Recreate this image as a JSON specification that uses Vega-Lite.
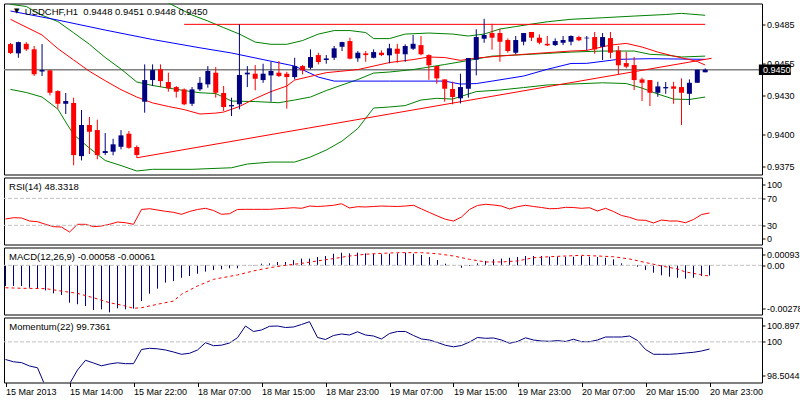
{
"$schema":"https://vega.github.io/schema/vega-lite/v6.json",
"background":"#ffffff",
"padding":{"left":2,"top":2.5,"right":0,"bottom":0},
"config":{"view":{"stroke":"#000000","strokeWidth":1},"axis":{"labelFont":"Liberation Sans","labelFontSize":9,"labelColor":"#000000","tickColor":"#000000","domain":false,"grid":false,"labelOverlap":false,"labelFlush":false,"tickSize":3,"labelPadding":1.5},"text":{"font":"Liberation Sans","fontSize":9.5,"color":"#000000"},"concat":{"spacing":3}},
"datasets":{
"candles":[
{"i":0,"o":0.94698,"h":0.94706,"l":0.94621,"c":0.94629},
{"i":1,"o":0.94626,"h":0.94716,"l":0.94592,"c":0.94713},
{"i":2,"o":0.947,"h":0.94713,"l":0.94644,"c":0.94657},
{"i":3,"o":0.94657,"h":0.94683,"l":0.94451,"c":0.94464},
{"i":4,"o":0.94486,"h":0.94698,"l":0.94451,"c":0.94497},
{"i":5,"o":0.94495,"h":0.94497,"l":0.94302,"c":0.94322},
{"i":6,"o":0.94335,"h":0.94341,"l":0.94199,"c":0.94237},
{"i":7,"o":0.94237,"h":0.9432,"l":0.94158,"c":0.94258},
{"i":8,"o":0.94243,"h":0.94284,"l":0.93762,"c":0.93841},
{"i":9,"o":0.93833,"h":0.94189,"l":0.938,"c":0.94073},
{"i":10,"o":0.94073,"h":0.94135,"l":0.93849,"c":0.94021},
{"i":11,"o":0.94034,"h":0.94114,"l":0.93808,"c":0.93841},
{"i":12,"o":0.93857,"h":0.94011,"l":0.93841,"c":0.93872},
{"i":13,"o":0.93867,"h":0.93967,"l":0.93839,"c":0.93924},
{"i":14,"o":0.93905,"h":0.94034,"l":0.93885,"c":0.93993},
{"i":15,"o":0.94006,"h":0.94027,"l":0.9389,"c":0.93897},
{"i":16,"o":0.93903,"h":0.93916,"l":0.9382,"c":0.93841},
{"i":17,"o":0.94253,"h":0.94541,"l":0.94168,"c":0.9442},
{"i":18,"o":0.9442,"h":0.94541,"l":0.94374,"c":0.94497},
{"i":19,"o":0.94503,"h":0.94541,"l":0.94366,"c":0.94412},
{"i":20,"o":0.94405,"h":0.94477,"l":0.9433,"c":0.94356},
{"i":21,"o":0.94366,"h":0.94374,"l":0.94284,"c":0.9433},
{"i":22,"o":0.94348,"h":0.94356,"l":0.94225,"c":0.94233},
{"i":23,"o":0.94237,"h":0.94366,"l":0.94219,"c":0.94348},
{"i":24,"o":0.94348,"h":0.94443,"l":0.94335,"c":0.94399},
{"i":25,"o":0.94387,"h":0.94528,"l":0.94361,"c":0.9449},
{"i":26,"o":0.94477,"h":0.9452,"l":0.94284,"c":0.94322},
{"i":27,"o":0.9432,"h":0.94374,"l":0.94181,"c":0.94212},
{"i":28,"o":0.94217,"h":0.94284,"l":0.94142,"c":0.94227},
{"i":29,"o":0.94233,"h":0.9485,"l":0.94194,"c":0.94459},
{"i":30,"o":0.94464,"h":0.94528,"l":0.94366,"c":0.94477},
{"i":31,"o":0.94469,"h":0.94536,"l":0.94341,"c":0.9443},
{"i":32,"o":0.9442,"h":0.94546,"l":0.94399,"c":0.94469},
{"i":33,"o":0.94456,"h":0.94561,"l":0.94253,"c":0.9449},
{"i":34,"o":0.94477,"h":0.94567,"l":0.94443,"c":0.94451},
{"i":35,"o":0.94469,"h":0.94484,"l":0.94199,"c":0.94443},
{"i":36,"o":0.94443,"h":0.94592,"l":0.94425,"c":0.94528},
{"i":37,"o":0.94528,"h":0.94536,"l":0.94464,"c":0.94495},
{"i":38,"o":0.94515,"h":0.94657,"l":0.94503,"c":0.94598},
{"i":39,"o":0.94613,"h":0.94631,"l":0.94541,"c":0.94559},
{"i":40,"o":0.94575,"h":0.94613,"l":0.94546,"c":0.94587},
{"i":41,"o":0.94592,"h":0.94683,"l":0.94575,"c":0.94665},
{"i":42,"o":0.94677,"h":0.94716,"l":0.94644,"c":0.94713},
{"i":43,"o":0.94721,"h":0.94747,"l":0.9458,"c":0.94585},
{"i":44,"o":0.94588,"h":0.94644,"l":0.94561,"c":0.94631},
{"i":45,"o":0.94626,"h":0.94644,"l":0.94561,"c":0.94613},
{"i":46,"o":0.94592,"h":0.94657,"l":0.94588,"c":0.94636},
{"i":47,"o":0.94631,"h":0.94649,"l":0.94605,"c":0.94613},
{"i":48,"o":0.94611,"h":0.947,"l":0.94549,"c":0.94665},
{"i":49,"o":0.94662,"h":0.947,"l":0.94554,"c":0.94623},
{"i":50,"o":0.94619,"h":0.94696,"l":0.94561,"c":0.94683},
{"i":51,"o":0.94662,"h":0.94768,"l":0.94652,"c":0.947},
{"i":52,"o":0.9469,"h":0.9476,"l":0.94611,"c":0.94619},
{"i":53,"o":0.94613,"h":0.94619,"l":0.94422,"c":0.94534},
{"i":54,"o":0.94528,"h":0.94528,"l":0.94392,"c":0.94433},
{"i":55,"o":0.94425,"h":0.94425,"l":0.94253,"c":0.94353},
{"i":56,"o":0.94351,"h":0.94407,"l":0.94233,"c":0.94289},
{"i":57,"o":0.94279,"h":0.94469,"l":0.9424,"c":0.94366},
{"i":58,"o":0.94353,"h":0.9459,"l":0.94284,"c":0.9459},
{"i":59,"o":0.94577,"h":0.94812,"l":0.94456,"c":0.94752},
{"i":60,"o":0.94739,"h":0.94893,"l":0.94708,"c":0.94768},
{"i":61,"o":0.94783,"h":0.94855,"l":0.94654,"c":0.94747},
{"i":62,"o":0.94783,"h":0.94816,"l":0.94561,"c":0.94716},
{"i":63,"o":0.94729,"h":0.94742,"l":0.94631,"c":0.94644},
{"i":64,"o":0.94631,"h":0.9476,"l":0.94619,"c":0.94729},
{"i":65,"o":0.94716,"h":0.94783,"l":0.94688,"c":0.94783},
{"i":66,"o":0.94791,"h":0.94791,"l":0.94721,"c":0.94747},
{"i":67,"o":0.94747,"h":0.94773,"l":0.94696,"c":0.94708},
{"i":68,"o":0.947,"h":0.9476,"l":0.94683,"c":0.94688},
{"i":69,"o":0.9469,"h":0.94742,"l":0.94683,"c":0.94721},
{"i":70,"o":0.94708,"h":0.9476,"l":0.9469,"c":0.94729},
{"i":71,"o":0.94716,"h":0.94765,"l":0.94688,"c":0.9476},
{"i":72,"o":0.94752,"h":0.94762,"l":0.94721,"c":0.94727},
{"i":73,"o":0.94742,"h":0.9476,"l":0.94649,"c":0.94747},
{"i":74,"o":0.94752,"h":0.94791,"l":0.94623,"c":0.94657},
{"i":75,"o":0.94677,"h":0.94783,"l":0.94575,"c":0.94752},
{"i":76,"o":0.94744,"h":0.94791,"l":0.94588,"c":0.94631},
{"i":77,"o":0.94649,"h":0.94683,"l":0.94464,"c":0.94534},
{"i":78,"o":0.94551,"h":0.94639,"l":0.9451,"c":0.94523},
{"i":79,"o":0.94536,"h":0.94598,"l":0.94343,"c":0.9442},
{"i":80,"o":0.94425,"h":0.94438,"l":0.94258,"c":0.94399},
{"i":81,"o":0.9442,"h":0.9442,"l":0.94219,"c":0.94322},
{"i":82,"o":0.94322,"h":0.94407,"l":0.94291,"c":0.94371},
{"i":83,"o":0.94356,"h":0.94405,"l":0.94314,"c":0.94366},
{"i":84,"o":0.94371,"h":0.94407,"l":0.94237,"c":0.94353},
{"i":85,"o":0.94366,"h":0.94433,"l":0.94073,"c":0.94322},
{"i":86,"o":0.94314,"h":0.94425,"l":0.94227,"c":0.94399},
{"i":87,"o":0.94399,"h":0.945,"l":0.94399,"c":0.945},
{"i":88,"o":0.9448,"h":0.9451,"l":0.9448,"c":0.945}
],
"ma":[{"i":0,"v":0.94953},{"i":6,"v":0.94883},{"i":12,"v":0.94806},{"i":18,"v":0.94733},{"i":24,"v":0.94669},{"i":28,"v":0.94629},{"i":32,"v":0.94578},{"i":36,"v":0.94528},{"i":39,"v":0.94443},{"i":41,"v":0.94412},{"i":48,"v":0.94412},{"i":55,"v":0.94412},{"i":57,"v":0.94389},{"i":59,"v":0.94393},{"i":61,"v":0.94412},{"i":65,"v":0.94451},{"i":68,"v":0.94503},{"i":71,"v":0.94548},{"i":73,"v":0.94549},{"i":77,"v":0.9458},{"i":81,"v":0.94585},{"i":88,"v":0.9458}],
"fast":[{"i":0,"v":0.94889},{"i":4,"v":0.94768},{"i":6,"v":0.94663},{"i":8,"v":0.94575},{"i":10,"v":0.94488},{"i":12,"v":0.94415},{"i":14,"v":0.94346},{"i":16,"v":0.94289},{"i":18,"v":0.94244},{"i":20,"v":0.94216},{"i":22,"v":0.94192},{"i":24,"v":0.94158},{"i":26,"v":0.94165},{"i":27,"v":0.94173},{"i":29,"v":0.94216},{"i":31,"v":0.94277},{"i":33,"v":0.94331},{"i":35,"v":0.94374},{"i":36,"v":0.9442},{"i":40,"v":0.94477},{"i":44,"v":0.94501},{"i":48,"v":0.94555},{"i":51,"v":0.94578},{"i":53,"v":0.94598},{"i":55,"v":0.94594},{"i":57,"v":0.94572},{"i":59,"v":0.9459},{"i":62,"v":0.94605},{"i":66,"v":0.94623},{"i":71,"v":0.94644},{"i":73,"v":0.94649},{"i":76,"v":0.9469},{"i":78,"v":0.94703},{"i":80,"v":0.94675},{"i":82,"v":0.94636},{"i":84,"v":0.94605},{"i":86,"v":0.94578},{"i":87,"v":0.94563},{"i":88,"v":0.94536}],
"bbm":[{"i":0,"v":0.95005},{"i":2,"v":0.94988},{"i":4,"v":0.9492},{"i":6,"v":0.94872},{"i":8,"v":0.94785},{"i":10,"v":0.94696},{"i":12,"v":0.94594},{"i":14,"v":0.94505},{"i":16,"v":0.94405},{"i":18,"v":0.94378},{"i":20,"v":0.94358},{"i":22,"v":0.94339},{"i":24,"v":0.94322},{"i":26,"v":0.94316},{"i":28,"v":0.94258},{"i":31,"v":0.94254},{"i":34,"v":0.94245},{"i":36,"v":0.94266},{"i":38,"v":0.94289},{"i":40,"v":0.94339},{"i":42,"v":0.94382},{"i":44,"v":0.94424},{"i":46,"v":0.94474},{"i":48,"v":0.94482},{"i":51,"v":0.94501},{"i":55,"v":0.9454},{"i":58,"v":0.94571},{"i":61,"v":0.94605},{"i":64,"v":0.94613},{"i":68,"v":0.94626},{"i":71,"v":0.94636},{"i":75,"v":0.94644},{"i":79,"v":0.94644},{"i":81,"v":0.94619},{"i":83,"v":0.94613},{"i":85,"v":0.94598},{"i":88,"v":0.94605}],
"bbl":[{"i":0,"v":0.94348},{"i":2,"v":0.94324},{"i":4,"v":0.94289},{"i":6,"v":0.94196},{"i":7,"v":0.94096},{"i":8,"v":0.93999},{"i":10,"v":0.93895},{"i":12,"v":0.93799},{"i":14,"v":0.9376},{"i":16,"v":0.93718},{"i":18,"v":0.93731},{"i":23,"v":0.93731},{"i":28,"v":0.93743},{"i":30,"v":0.93772},{"i":33,"v":0.93787},{"i":36,"v":0.93787},{"i":38,"v":0.93826},{"i":40,"v":0.9388},{"i":42,"v":0.93949},{"i":44,"v":0.94046},{"i":46,"v":0.94204},{"i":48,"v":0.94212},{"i":50,"v":0.94223},{"i":52,"v":0.94266},{"i":54,"v":0.94279},{"i":56,"v":0.94273},{"i":58,"v":0.94312},{"i":59,"v":0.94331},{"i":62,"v":0.94343},{"i":65,"v":0.94362},{"i":68,"v":0.94382},{"i":71,"v":0.94389},{"i":75,"v":0.94399},{"i":78,"v":0.94393},{"i":80,"v":0.94358},{"i":82,"v":0.94312},{"i":84,"v":0.94273},{"i":86,"v":0.9427},{"i":88,"v":0.94289}],
"bbu":[{"i":0,"v":0.9566},{"i":4,"v":0.9555},{"i":8,"v":0.9557},{"i":12,"v":0.9539},{"i":16,"v":0.9512},{"i":18,"v":0.9506},{"i":20,"v":0.95015},{"i":21,"v":0.94984},{"i":22,"v":0.94953},{"i":23,"v":0.94922},{"i":25,"v":0.94876},{"i":27,"v":0.94825},{"i":29,"v":0.94775},{"i":31,"v":0.94713},{"i":33,"v":0.94696},{"i":35,"v":0.94696},{"i":37,"v":0.94725},{"i":39,"v":0.94775},{"i":41,"v":0.94802},{"i":43,"v":0.94802},{"i":45,"v":0.94787},{"i":46,"v":0.9474},{"i":48,"v":0.9474},{"i":50,"v":0.94775},{"i":53,"v":0.94783},{"i":56,"v":0.94775},{"i":58,"v":0.9476},{"i":60,"v":0.94775},{"i":62,"v":0.94814},{"i":64,"v":0.94833},{"i":66,"v":0.94852},{"i":68,"v":0.9487},{"i":71,"v":0.94889},{"i":75,"v":0.94901},{"i":79,"v":0.94914},{"i":83,"v":0.94926},{"i":85,"v":0.94935},{"i":86,"v":0.9493},{"i":88,"v":0.9492}],
"hline":[{"i":22,"v":0.9485},{"i":88,"v":0.9485}],
"trend":[{"i":16,"v":0.9382},{"i":88.8,"v":0.94588}],
"rsi":[{"i":0,"v":39.4},{"i":1,"v":41.3},{"i":2,"v":40.9},{"i":3,"v":36.4},{"i":4,"v":35.4},{"i":5,"v":31.5},{"i":6,"v":28.0},{"i":7,"v":27.5},{"i":8,"v":20.1},{"i":9,"v":31.5},{"i":10,"v":31.5},{"i":11,"v":28.0},{"i":12,"v":29.0},{"i":13,"v":31.5},{"i":14,"v":34.9},{"i":15,"v":33.9},{"i":16,"v":31.5},{"i":17,"v":53.5},{"i":18,"v":54.6},{"i":19,"v":52.7},{"i":20,"v":50.8},{"i":21,"v":49.3},{"i":22,"v":46.3},{"i":23,"v":50.5},{"i":24,"v":53.5},{"i":25,"v":55.2},{"i":26,"v":52.0},{"i":27,"v":46.3},{"i":28,"v":47.2},{"i":29,"v":53.5},{"i":30,"v":53.7},{"i":31,"v":53.7},{"i":32,"v":53.7},{"i":33,"v":53.7},{"i":34,"v":54.5},{"i":35,"v":55.2},{"i":36,"v":56.1},{"i":37,"v":55.2},{"i":38,"v":58.6},{"i":39,"v":57.9},{"i":40,"v":58.6},{"i":41,"v":59.7},{"i":42,"v":62.0},{"i":43,"v":55.7},{"i":44,"v":57.6},{"i":45,"v":57.2},{"i":46,"v":57.9},{"i":47,"v":58.6},{"i":48,"v":58.2},{"i":49,"v":57.9},{"i":50,"v":58.6},{"i":51,"v":59.7},{"i":52,"v":54.2},{"i":53,"v":49.0},{"i":54,"v":43.8},{"i":55,"v":38.9},{"i":56,"v":36.4},{"i":57,"v":42.3},{"i":58,"v":53.5},{"i":59,"v":59.4},{"i":60,"v":61.2},{"i":61,"v":60.1},{"i":62,"v":58.6},{"i":63,"v":54.2},{"i":64,"v":57.6},{"i":65,"v":59.7},{"i":66,"v":57.9},{"i":67,"v":56.4},{"i":68,"v":54.6},{"i":69,"v":54.9},{"i":70,"v":56.7},{"i":71,"v":56.4},{"i":72,"v":55.2},{"i":73,"v":56.1},{"i":74,"v":51.2},{"i":75,"v":55.2},{"i":76,"v":50.5},{"i":77,"v":44.6},{"i":78,"v":41.9},{"i":79,"v":37.9},{"i":80,"v":37.4},{"i":81,"v":33.5},{"i":82,"v":37.9},{"i":83,"v":36.4},{"i":84,"v":36.4},{"i":85,"v":33.9},{"i":86,"v":38.6},{"i":87,"v":46.0},{"i":88,"v":48.3}],
"macd":[{"i":0,"v":-0.00118},{"i":1,"v":-0.00118},{"i":2,"v":-0.00118},{"i":3,"v":-0.00128},{"i":4,"v":-0.00133},{"i":5,"v":-0.00143},{"i":6,"v":-0.0016},{"i":7,"v":-0.00169},{"i":8,"v":-0.00213},{"i":9,"v":-0.00222},{"i":10,"v":-0.00232},{"i":11,"v":-0.00255},{"i":12,"v":-0.00251},{"i":13,"v":-0.00268},{"i":14,"v":-0.00245},{"i":15,"v":-0.00251},{"i":16,"v":-0.00247},{"i":17,"v":-0.00204},{"i":18,"v":-0.00162},{"i":19,"v":-0.00133},{"i":20,"v":-0.00099},{"i":21,"v":-0.0009},{"i":22,"v":-0.00071},{"i":23,"v":-0.00061},{"i":24,"v":-0.00048},{"i":25,"v":-0.00036},{"i":26,"v":-0.00027},{"i":27,"v":-0.00023},{"i":28,"v":-0.00017},{"i":29,"v":-0.00017},{"i":30,"v":-0.00004},{"i":31,"v":-0.00002},{"i":32,"v":0.00009},{"i":33,"v":0.00011},{"i":34,"v":0.00019},{"i":35,"v":0.00019},{"i":36,"v":0.00029},{"i":37,"v":0.00038},{"i":38,"v":0.00038},{"i":39,"v":0.00047},{"i":40,"v":0.00053},{"i":41,"v":0.00066},{"i":42,"v":0.00072},{"i":43,"v":0.00068},{"i":44,"v":0.00072},{"i":45,"v":0.00068},{"i":46,"v":0.00066},{"i":47,"v":0.00063},{"i":48,"v":0.00066},{"i":49,"v":0.00068},{"i":50,"v":0.00072},{"i":51,"v":0.00066},{"i":52,"v":0.00059},{"i":53,"v":0.00047},{"i":54,"v":0.0003},{"i":55,"v":0.00009},{"i":56,"v":0.00001},{"i":57,"v":-0.00014},{"i":58,"v":-0.00004},{"i":59,"v":0.00011},{"i":60,"v":0.00025},{"i":61,"v":0.00034},{"i":62,"v":0.00038},{"i":63,"v":0.00043},{"i":64,"v":0.00047},{"i":65,"v":0.00053},{"i":66,"v":0.00053},{"i":67,"v":0.00053},{"i":68,"v":0.00049},{"i":69,"v":0.00049},{"i":70,"v":0.00049},{"i":71,"v":0.00049},{"i":72,"v":0.00053},{"i":73,"v":0.00049},{"i":74,"v":0.00047},{"i":75,"v":0.00043},{"i":76,"v":0.00034},{"i":77,"v":0.00011},{"i":78,"v":0.00001},{"i":79,"v":-0.00008},{"i":80,"v":-0.00027},{"i":81,"v":-0.00042},{"i":82,"v":-0.00057},{"i":83,"v":-0.00065},{"i":84,"v":-0.00071},{"i":85,"v":-0.00076},{"i":86,"v":-0.00071},{"i":87,"v":-0.00061},{"i":88,"v":-0.00058}],
"signal":[{"i":0,"v":-0.00128},{"i":2,"v":-0.00131},{"i":5,"v":-0.00133},{"i":7,"v":-0.00147},{"i":9,"v":-0.0016},{"i":11,"v":-0.00185},{"i":13,"v":-0.00213},{"i":15,"v":-0.00232},{"i":16,"v":-0.00245},{"i":17,"v":-0.00242},{"i":19,"v":-0.00222},{"i":21,"v":-0.00204},{"i":22,"v":-0.00165},{"i":24,"v":-0.00118},{"i":26,"v":-0.0008},{"i":29,"v":-0.00055},{"i":31,"v":-0.00032},{"i":33,"v":-0.00014},{"i":35,"v":0.0},{"i":37,"v":0.00011},{"i":39,"v":0.00025},{"i":41,"v":0.00038},{"i":43,"v":0.00053},{"i":45,"v":0.00063},{"i":47,"v":0.00068},{"i":49,"v":0.00072},{"i":52,"v":0.00072},{"i":54,"v":0.00066},{"i":56,"v":0.00053},{"i":58,"v":0.00034},{"i":60,"v":0.00019},{"i":62,"v":0.00019},{"i":64,"v":0.00025},{"i":66,"v":0.00043},{"i":68,"v":0.00049},{"i":70,"v":0.00053},{"i":72,"v":0.00057},{"i":74,"v":0.00053},{"i":76,"v":0.00049},{"i":78,"v":0.00036},{"i":80,"v":0.00016},{"i":82,"v":-0.00004},{"i":84,"v":-0.00021},{"i":85,"v":-0.00038},{"i":86,"v":-0.00046},{"i":87,"v":-0.00055},{"i":88,"v":-0.00061}],
"mom":[{"i":0,"v":99.351},{"i":1,"v":99.267},{"i":2,"v":99.237},{"i":3,"v":99.112},{"i":4,"v":99.046},{"i":5,"v":98.35},{"i":6,"v":98.2},{"i":7,"v":98.3},{"i":8,"v":98.45},{"i":9,"v":98.965},{"i":10,"v":99.322},{"i":11,"v":99.222},{"i":12,"v":99.119},{"i":13,"v":99.186},{"i":14,"v":99.23},{"i":15,"v":99.197},{"i":16,"v":99.197},{"i":17,"v":99.72},{"i":18,"v":99.764},{"i":19,"v":99.745},{"i":20,"v":99.701},{"i":21,"v":99.627},{"i":22,"v":99.543},{"i":23,"v":99.58},{"i":24,"v":99.701},{"i":25,"v":99.97},{"i":26,"v":99.859},{"i":27,"v":99.878},{"i":28,"v":99.959},{"i":29,"v":100.154},{"i":30,"v":100.584},{"i":31,"v":100.382},{"i":32,"v":100.437},{"i":33,"v":100.573},{"i":34,"v":100.584},{"i":35,"v":100.529},{"i":36,"v":100.548},{"i":37,"v":100.64},{"i":38,"v":100.743},{"i":39,"v":100.161},{"i":40,"v":100.087},{"i":41,"v":100.235},{"i":42,"v":100.29},{"i":43,"v":100.253},{"i":44,"v":100.371},{"i":45,"v":100.253},{"i":46,"v":100.216},{"i":47,"v":100.106},{"i":48,"v":100.308},{"i":49,"v":100.382},{"i":50,"v":100.382},{"i":51,"v":100.235},{"i":52,"v":100.106},{"i":53,"v":100.069},{"i":54,"v":99.977},{"i":55,"v":99.874},{"i":56,"v":99.819},{"i":57,"v":99.867},{"i":58,"v":99.995},{"i":59,"v":100.161},{"i":60,"v":100.132},{"i":61,"v":100.143},{"i":62,"v":100.069},{"i":63,"v":99.948},{"i":64,"v":100.014},{"i":65,"v":100.15},{"i":66,"v":100.069},{"i":67,"v":100.032},{"i":68,"v":100.021},{"i":69,"v":100.047},{"i":70,"v":100.014},{"i":71,"v":100.095},{"i":72,"v":100.006},{"i":73,"v":100.006},{"i":74,"v":100.069},{"i":75,"v":100.179},{"i":76,"v":100.179},{"i":77,"v":100.179},{"i":78,"v":100.216},{"i":79,"v":100.051},{"i":80,"v":99.72},{"i":81,"v":99.543},{"i":82,"v":99.543},{"i":83,"v":99.543},{"i":84,"v":99.561},{"i":85,"v":99.591},{"i":86,"v":99.616},{"i":87,"v":99.664},{"i":88,"v":99.736}],
"one":[{}]
},
"vconcat":[
{
"width":758,"height":171,
"layer":[
{"data":{"name":"one"},"mark":{"type":"rule","color":"#808080","strokeWidth":1.5},"encoding":{"y":{"datum":0.945,"type":"quantitative"}}},
{"data":{"name":"bbu"},"mark":{"type":"line","color":"#008000","strokeWidth":1,"clip":true},"encoding":{"x":{"field":"i","type":"quantitative","axis":null},"y":{"field":"v","type":"quantitative"}}},
{"data":{"name":"bbm"},"mark":{"type":"line","color":"#008000","strokeWidth":1,"clip":true},"encoding":{"x":{"field":"i","type":"quantitative","axis":null},"y":{"field":"v","type":"quantitative"}}},
{"data":{"name":"bbl"},"mark":{"type":"line","color":"#008000","strokeWidth":1,"clip":true},"encoding":{"x":{"field":"i","type":"quantitative","axis":null},"y":{"field":"v","type":"quantitative"}}},
{"data":{"name":"ma"},"mark":{"type":"line","color":"#0000ff","strokeWidth":1,"clip":true},"encoding":{"x":{"field":"i","type":"quantitative","axis":null},"y":{"field":"v","type":"quantitative"}}},
{"data":{"name":"fast"},"mark":{"type":"line","color":"#ff0000","strokeWidth":1,"clip":true},"encoding":{"x":{"field":"i","type":"quantitative","axis":null},"y":{"field":"v","type":"quantitative"}}},
{"data":{"name":"hline"},"mark":{"type":"line","color":"#ff0000","strokeWidth":1},"encoding":{"x":{"field":"i","type":"quantitative","axis":null},"y":{"field":"v","type":"quantitative"}}},
{"data":{"name":"trend"},"mark":{"type":"line","color":"#ff0000","strokeWidth":1},"encoding":{"x":{"field":"i","type":"quantitative","axis":null},"y":{"field":"v","type":"quantitative"}}},
{"data":{"name":"candles"},"mark":{"type":"rule","strokeWidth":1},"encoding":{"x":{"field":"i","type":"quantitative","scale":{"domain":[-0.1875,94.5625],"nice":false,"zero":false},"axis":null},"y":{"field":"l","type":"quantitative","scale":{"domain":[0.93691,0.95011],"nice":false,"zero":false},"axis":{"orient":"right","title":null,"labelOverlap":false,"values":[0.9375,0.94,0.943,0.9455,0.9485],"format":".4f"}},"y2":{"field":"h"},"color":{"condition":{"test":"datum.c >= datum.o","value":"#000080"},"value":"#ff0000"}}},
{"data":{"name":"candles"},"mark":{"type":"bar","size":5},"encoding":{"x":{"field":"i","type":"quantitative","axis":null},"y":{"field":"o","type":"quantitative"},"y2":{"field":"c"},"color":{"condition":{"test":"datum.c >= datum.o","value":"#000080"},"value":"#ff0000"}}},
{"data":{"name":"one"},"mark":{"type":"rect","color":"#000000","clip":false},"encoding":{"x":{"datum":94.8,"type":"quantitative","axis":null},"x2":{"datum":98.85},"y":{"datum":0.94459,"type":"quantitative"},"y2":{"datum":0.94541}}},
{"data":{"name":"one"},"mark":{"type":"text","text":"0.9450","color":"#ffffff","fontSize":9,"align":"left","baseline":"middle","clip":false},"encoding":{"x":{"datum":95.31,"type":"quantitative","axis":null},"y":{"datum":0.94497,"type":"quantitative"}}},
{"data":{"name":"one"},"mark":{"type":"text","text":"▼","font":"DejaVu Sans","fontSize":7,"align":"center","baseline":"middle"},"encoding":{"x":{"datum":0.78,"type":"quantitative","axis":null},"y":{"datum":0.94952,"type":"quantitative"}}},
{"data":{"name":"one"},"mark":{"type":"text","text":"USDCHF,H1\u00a0\u00a00.9448 0.9451 0.9448 0.9450","align":"left","baseline":"middle"},"encoding":{"x":{"datum":1.81,"type":"quantitative","axis":null},"y":{"datum":0.94947,"type":"quantitative"}}}
]
},
{
"width":758,"height":67,
"layer":[
{"data":{"name":"rsi"},"mark":{"type":"line","color":"#ff0000","strokeWidth":1,"clip":true},"encoding":{"x":{"field":"i","type":"quantitative","scale":{"domain":[-0.1875,94.5625],"nice":false,"zero":false},"axis":null},"y":{"field":"v","type":"quantitative","scale":{"domain":[1.6,100.86],"nice":false,"zero":false},"axis":{"orient":"right","title":null,"labelOverlap":false,"values":[90.8,70.01,29.99,10.2],"labelExpr":"datum.value > 80 ? '100' : datum.value < 20 ? '0' : datum.value > 50 ? '70' : '30'"}}}},
{"data":{"name":"one"},"mark":{"type":"rule","color":"#c0c0c0","strokeDash":[4,2],"strokeWidth":1},"encoding":{"y":{"datum":70,"type":"quantitative","axis":{"orient":"right","title":null,"labelOverlap":false,"values":[90.8,70.01,29.99,10.2],"labelExpr":"datum.value > 80 ? '100' : datum.value < 20 ? '0' : datum.value > 50 ? '70' : '30'"}}}},
{"data":{"name":"one"},"mark":{"type":"rule","color":"#c0c0c0","strokeDash":[4,2],"strokeWidth":1},"encoding":{"y":{"datum":30,"type":"quantitative","axis":{"orient":"right","title":null,"labelOverlap":false,"values":[90.8,70.01,29.99,10.2],"labelExpr":"datum.value > 80 ? '100' : datum.value < 20 ? '0' : datum.value > 50 ? '70' : '30'"}}}},
{"data":{"name":"one"},"mark":{"type":"text","text":"RSI(14) 48.3318","align":"left","baseline":"middle"},"encoding":{"x":{"datum":0.44,"type":"quantitative","axis":null},"y":{"datum":86.8,"type":"quantitative","axis":{"orient":"right","title":null,"labelOverlap":false,"values":[90.8,70.01,29.99,10.2],"labelExpr":"datum.value > 80 ? '100' : datum.value < 20 ? '0' : datum.value > 50 ? '70' : '30'"}}}}
]
},
{
"width":758,"height":67,
"layer":[
{"data":{"name":"macd"},"mark":{"type":"rule","color":"#000080","strokeWidth":1,"clip":true},"encoding":{"x":{"field":"i","type":"quantitative","scale":{"domain":[-0.1875,94.5625],"nice":false,"zero":false},"axis":null},"y":{"field":"v","type":"quantitative","scale":{"domain":[-0.002805,0.001015],"nice":false,"zero":false},"axis":{"orient":"right","title":null,"labelOverlap":false,"values":[0.000616,0.0000001,-0.002446],"labelExpr":"datum.value > 0.0003 ? '0.00093' : datum.value < -0.001 ? '-0.00278' : '0.00'"}},"y2":{"datum":0}}},
{"data":{"name":"one"},"mark":{"type":"rule","color":"#c0c0c0","strokeDash":[4,2],"strokeWidth":1},"encoding":{"y":{"datum":0,"type":"quantitative","axis":{"orient":"right","title":null,"labelOverlap":false,"values":[0.000616,0.0000001,-0.002446],"labelExpr":"datum.value > 0.0003 ? '0.00093' : datum.value < -0.001 ? '-0.00278' : '0.00'"}}}},
{"data":{"name":"signal"},"mark":{"type":"line","color":"#ff0000","strokeWidth":1,"strokeDash":[3,3],"clip":true},"encoding":{"x":{"field":"i","type":"quantitative","axis":null},"y":{"field":"v","type":"quantitative","axis":{"orient":"right","title":null,"labelOverlap":false,"values":[0.000616,0.0000001,-0.002446],"labelExpr":"datum.value > 0.0003 ? '0.00093' : datum.value < -0.001 ? '-0.00278' : '0.00'"}}}},
{"data":{"name":"one"},"mark":{"type":"text","text":"MACD(12,26,9) -0.00058 -0.00061","align":"left","baseline":"middle"},"encoding":{"x":{"datum":0.44,"type":"quantitative","axis":null},"y":{"datum":0.00049,"type":"quantitative","axis":{"orient":"right","title":null,"labelOverlap":false,"values":[0.000616,0.0000001,-0.002446],"labelExpr":"datum.value > 0.0003 ? '0.00093' : datum.value < -0.001 ? '-0.00278' : '0.00'"}}}}
]
},
{
"width":758,"height":65,
"layer":[
{"data":{"name":"mom"},"mark":{"type":"line","color":"#000080","strokeWidth":1,"clip":true},"encoding":{"x":{"field":"i","type":"quantitative","scale":{"domain":[-0.1875,94.5625],"nice":false,"zero":false},"axis":{"orient":"bottom","title":null,"labelOverlap":false,"values":[0,8,16,24,32,40,48,56,64,72,80,88],"labelExpr":"['15 Mar 2013','15 Mar 14:00','15 Mar 22:00','18 Mar 07:00','18 Mar 15:00','18 Mar 23:00','19 Mar 07:00','19 Mar 15:00','19 Mar 23:00','20 Mar 07:00','20 Mar 15:00','20 Mar 23:00'][round(datum.value/8)]","labelAlign":"left","labelBaseline":"top","tickSize":4,"labelPadding":1}},"y":{"field":"v","type":"quantitative","scale":{"domain":[98.5044,100.8972],"nice":false,"zero":false},"axis":{"orient":"right","title":null,"labelOverlap":false,"values":[100.621,100.0001,98.744],"labelExpr":"datum.value > 100.3 ? '100.8972' : datum.value < 99.5 ? '98.5044' : '100'"}}}},
{"data":{"name":"one"},"mark":{"type":"rule","color":"#c0c0c0","strokeDash":[4,2],"strokeWidth":1},"encoding":{"y":{"datum":100,"type":"quantitative","axis":{"orient":"right","title":null,"labelOverlap":false,"values":[100.621,100.0001,98.744],"labelExpr":"datum.value > 100.3 ? '100.8972' : datum.value < 99.5 ? '98.5044' : '100'"}}}},
{"data":{"name":"one"},"mark":{"type":"text","text":"Momentum(22) 99.7361","align":"left","baseline":"middle"},"encoding":{"x":{"datum":0.47,"type":"quantitative"},"y":{"datum":100.559,"type":"quantitative","axis":{"orient":"right","title":null,"labelOverlap":false,"values":[100.621,100.0001,98.744],"labelExpr":"datum.value > 100.3 ? '100.8972' : datum.value < 99.5 ? '98.5044' : '100'"}}}}
]
}
],
"bounds":"flush"
}
